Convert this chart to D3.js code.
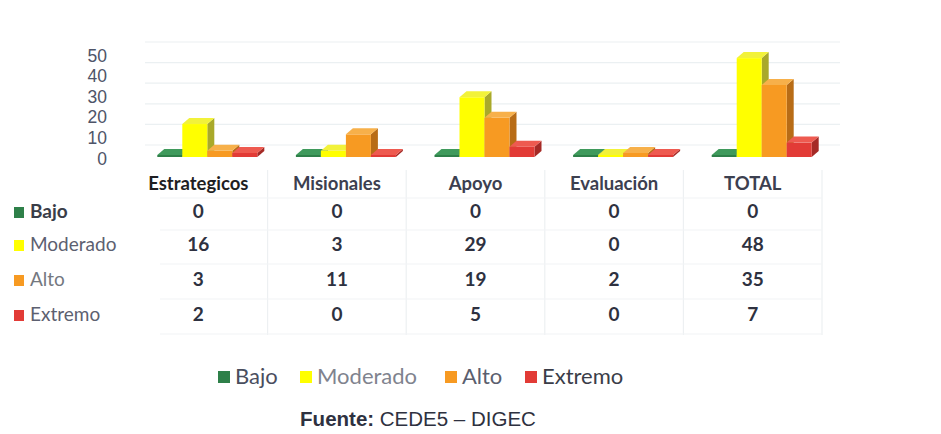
<!DOCTYPE html>
<html>
<head>
<meta charset="utf-8">
<script src="https://cdn.jsdelivr.net/npm/d3@7"></script>
<style>
  body { margin: 0; background: #fff; }
  svg { display: block; }
  text { font-family: Lato, "Open Sans", sans-serif; }
</style>
</head>
<body>
<svg id="chart"></svg>
<script>
// data
var categories = ["Estrategicos", "Misionales", "Apoyo", "Evaluación", "TOTAL"];
var seriesNames = ["Bajo", "Moderado", "Alto", "Extremo"];
var bajo = [0, 0, 0, 0, 0];
var moderado = [16, 3, 29, 0, 48];
var alto = [3, 11, 19, 2, 35];
var extremo = [2, 0, 5, 0, 7];
var yTicks = [0, 10, 20, 30, 40, 50];

var seriesValues = [bajo, moderado, alto, extremo];
var colors = {
  front: ["#2e8049", "#ffff00", "#f79a22", "#e23b36"],
  top:   ["#3f9a5c", "#f2f23a", "#f7b04a", "#ee5a50"],
  side:  ["#1f5c33", "#a9a92a", "#b86c16", "#a52a26"]
};

var width = 941, height = 434;
var svg = d3.select("#chart").attr("width", width).attr("height", height);

var x = d3.scaleBand().domain(categories).range([129, 822]);
var inner = d3.scaleBand().domain(seriesNames).range([0, 100]);
var y = d3.scaleLinear().domain([0, 50]).range([157, 54]);
var dx = 7, dy = 6;

// back gridlines
svg.append("g").selectAll("line")
    .data(yTicks)
  .enter().append("line")
    .attr("x1", 145).attr("x2", 840)
    .attr("y1", function(d) { return y(d) - 12; })
    .attr("y2", function(d) { return y(d) - 12; })
    .attr("stroke", "#ebf0f2").attr("stroke-width", 1.2);

// y axis labels
svg.append("g").selectAll("text")
    .data(yTicks)
  .enter().append("text")
    .attr("x", 107)
    .attr("y", function(d) { return y(d) + 3; })
    .attr("text-anchor", "end")
    .attr("dominant-baseline", "middle")
    .style("font-family", "'Liberation Sans', Arial, sans-serif")
    .style("font-size", "17.5px")
    .attr("fill", "#4e5468")
    .text(function(d) { return d; });

// 3D bars
var bars = [];
categories.forEach(function(c, i) {
  seriesNames.forEach(function(s, j) {
    bars.push({cat: c, s: s, j: j, v: seriesValues[j][i]});
  });
});

var barG = svg.append("g");
bars.forEach(function(d) {
  var bw = inner.bandwidth();
  var x0 = x(d.cat) + x.bandwidth() / 2 - 41 + inner(d.s);
  var yb = y(0);
  var yt = Math.min(y(d.v), yb - 2);
  var g = barG.append("g");
  // side
  g.append("path")
      .attr("d", "M" + (x0 + bw) + "," + yt + "L" + (x0 + bw + dx) + "," + (yt - dy) +
                 "L" + (x0 + bw + dx) + "," + (yb - dy) + "L" + (x0 + bw) + "," + yb + "Z")
      .attr("fill", colors.side[d.j]);
  // front
  g.append("rect")
      .attr("x", x0).attr("y", yt)
      .attr("width", bw).attr("height", yb - yt)
      .attr("fill", colors.front[d.j]);
  // top
  g.append("path")
      .attr("d", "M" + x0 + "," + yt + "L" + (x0 + dx) + "," + (yt - dy) +
                 "L" + (x0 + bw + dx) + "," + (yt - dy) + "L" + (x0 + bw) + "," + yt + "Z")
      .attr("fill", colors.top[d.j]);
});

// data table
var rowY = [213, 246, 281, 316];
var grid = svg.append("g").attr("stroke", "#edf0f2").attr("stroke-width", 1.2);
x.domain().forEach(function(c, i) {
  if (i > 0) grid.append("line").attr("x1", x(c)).attr("x2", x(c)).attr("y1", 170).attr("y2", 335);
});
grid.append("line").attr("x1", 822).attr("x2", 822).attr("y1", 170).attr("y2", 335);
[198, 230, 264, 299, 334].forEach(function(yy) {
  grid.append("line").attr("x1", 160).attr("x2", 822).attr("y1", yy).attr("y2", yy)
      .attr("stroke", "#f1f4f6");
});

svg.append("g").selectAll("text")
    .data(categories)
  .enter().append("text")
    .attr("x", function(d) { return x(d) + x.bandwidth() / 2; })
    .attr("y", 185)
    .attr("text-anchor", "middle")
    .attr("dominant-baseline", "middle")
    .style("font-size", "18.5px").style("font-weight", "bold")
    .attr("fill", function(d, i) { return i == 0 ? "#1e1e22" : "#3c4050"; })
    .text(function(d) { return d; });

var rowLabelColor = ["#3a3d48", "#5c6070", "#74787f", "#5c6070"];
seriesNames.forEach(function(s, j) {
  svg.append("rect")
      .attr("x", 14).attr("y", rowY[j] - 6)
      .attr("width", 10).attr("height", 11)
      .attr("fill", colors.front[j]);
  svg.append("text")
      .attr("x", 30).attr("y", rowY[j])
      .attr("dominant-baseline", "middle")
      .style("font-size", "19px")
      .style("font-weight", j == 0 ? "bold" : "normal")
      .attr("fill", rowLabelColor[j])
      .text(s);
  svg.append("g").selectAll("text")
      .data(seriesValues[j])
    .enter().append("text")
      .attr("x", function(d, i) { return x(categories[i]) + x.bandwidth() / 2; })
      .attr("y", rowY[j])
      .attr("text-anchor", "middle")
      .attr("dominant-baseline", "middle")
      .style("font-size", "19px").style("font-weight", "bold")
      .attr("fill", "#2e3140")
      .text(function(d) { return d; });
});

// bottom legend
var legendX = [218, 300, 445, 525];
var legendColor = ["#4a4e5e", "#80838e", "#5a5e6e", "#3a3d48"];
seriesNames.forEach(function(s, j) {
  svg.append("rect")
      .attr("x", legendX[j]).attr("y", 371)
      .attr("width", 12).attr("height", 12)
      .attr("fill", colors.front[j]);
  svg.append("text")
      .attr("x", legendX[j] + 17).attr("y", 378)
      .attr("dominant-baseline", "middle")
      .style("font-size", "22px")
      .attr("fill", legendColor[j])
      .text(s);
});

// source
var src = svg.append("text")
    .attr("x", 418).attr("y", 426)
    .attr("text-anchor", "middle")
    .style("font-family", "'Liberation Sans', Arial, sans-serif")
    .style("font-size", "20.5px")
    .attr("fill", "#2e3140");
src.append("tspan").style("font-weight", "bold").text("Fuente: ");
src.append("tspan").text("CEDE5 – DIGEC");
</script>
</body>
</html>
